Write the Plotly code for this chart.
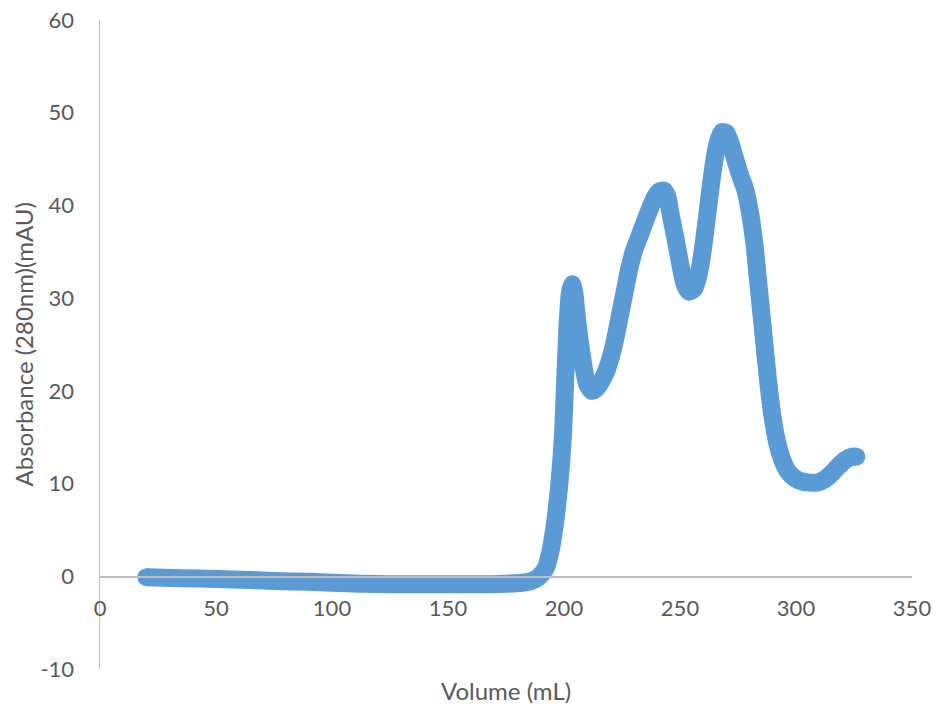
import plotly.graph_objects as go

volume_ml = [20, 35, 50, 65, 75, 90, 100, 112, 125, 140, 150, 165, 175, 182, 186, 189, 192, 194, 196,
             198, 199.5, 200.5, 201.5, 202.5, 203.5, 204.5, 205.5, 207, 208.5, 210, 212, 214, 216,
             218, 220, 222, 224, 226, 228, 230, 233, 236, 239, 241, 243, 244.5, 246, 248, 250,
             252, 254, 256, 258, 260, 262, 264, 266, 268, 270, 272, 274, 276, 278, 280, 282,
             284, 286, 288, 290, 292, 294, 296, 298, 300, 303, 306, 309, 312, 315, 318, 321, 324, 326]
absorbance_mau = [-0.1, -0.2, -0.3, -0.4, -0.5, -0.6, -0.7, -0.8, -0.85, -0.85, -0.85, -0.85, -0.8, -0.7, -0.5, -0.1, 0.8, 2.5, 5.5,
                  10, 15, 21, 27, 30.5, 31.5, 30.5, 28, 25, 22.5, 20.7, 20, 20.3, 21,
                  22, 23.5, 25.5, 28, 30.5, 33, 35, 37, 39, 40.8, 41.5, 41.6, 41, 39, 36.5, 33.8,
                  31.5, 30.7, 31, 32.5, 35.5, 39.5, 43.5, 46.5, 47.9, 47.8, 46.5, 44.8, 43.2, 41.8, 39.5, 36,
                  31, 26, 21, 17, 14.3, 12.6, 11.5, 10.9, 10.5, 10.2, 10.1, 10.1, 10.4, 11, 11.8, 12.5, 12.9, 12.9]

x_ticks = [0, 50, 100, 150, 200, 250, 300, 350]
y_ticks = [-10, 0, 10, 20, 30, 40, 50, 60]

LINE_COLOR = "#5b9bd5"
TEXT_COLOR = "#595959"
AXIS_COLOR = "#bfbfbf"
FONT = "Lato, 'Open Sans', sans-serif"
TICK_SIZE = 22
TITLE_SIZE = 24

fig = go.Figure()
fig.add_trace(go.Scatter(
    x=volume_ml, y=absorbance_mau, mode="lines",
    line=dict(color=LINE_COLOR, width=18, shape="spline", smoothing=0.6),
    hoverinfo="skip", showlegend=False,
))
fig.add_trace(go.Scatter(
    x=[volume_ml[0], volume_ml[-1]], y=[absorbance_mau[0], absorbance_mau[-1]], mode="markers",
    marker=dict(color=LINE_COLOR, size=18, line=dict(width=0)),
    hoverinfo="skip", showlegend=False,
))

fig.update_layout(
    width=942, height=709,
    margin=dict(l=100, r=30, t=20, b=40, autoexpand=False),
    paper_bgcolor="white", plot_bgcolor="white",
    font=dict(family=FONT, size=TICK_SIZE, color=TEXT_COLOR),
    hovermode=False,
    xaxis=dict(
        range=[0, 350], tickvals=x_ticks, ticktext=[str(v) for v in x_ticks],
        showgrid=False, zeroline=False, showline=True, linecolor=AXIS_COLOR, linewidth=1.5,
        anchor="free", position=10 / 70, ticks="", ticklabelstandoff=12, automargin=False,
        ticklabeloverflow="allow",
        tickfont=dict(size=TICK_SIZE, color=TEXT_COLOR),
    ),
    yaxis=dict(
        range=[-10, 60], tickvals=y_ticks, ticktext=[str(v) for v in y_ticks],
        showgrid=False, zeroline=False, showline=True, linecolor=AXIS_COLOR, linewidth=1.5,
        ticks="", ticklabelstandoff=20, automargin=False, ticklabeloverflow="allow",
        tickfont=dict(size=TICK_SIZE, color=TEXT_COLOR),
    ),
    annotations=[
        dict(
            text="Volume (mL)", xref="paper", yref="paper", x=0.5, y=0, yshift=-21,
            xanchor="center", yanchor="middle", showarrow=False,
            font=dict(size=TITLE_SIZE, color=TEXT_COLOR),
        ),
        dict(
            text="Absorbance (280nm)(mAU)", xref="paper", yref="paper", x=0, y=0.5, xshift=-77,
            xanchor="center", yanchor="middle", textangle=-90, showarrow=False,
            font=dict(size=TITLE_SIZE, color=TEXT_COLOR),
        ),
    ],
)

# remove the page body's default margin so the figure sits at the window's top-left corner
fig.write_html(
    "out.html",
    config={"displayModeBar": False, "staticPlot": True},
    post_script="document.body.style.margin='0px';",
)
